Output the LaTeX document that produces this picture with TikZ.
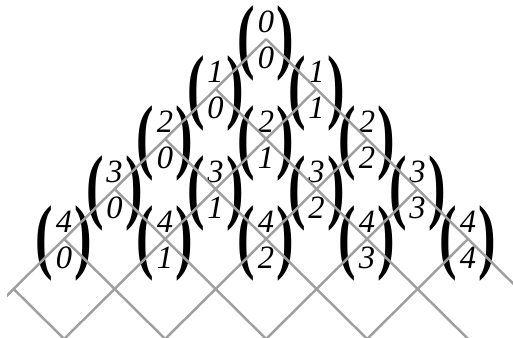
\documentclass[tikz,border=0pt]{standalone}
\usepackage{graphicx}
\usepackage{fontspec}
\setmainfont{Liberation Serif}
\newcommand\bparen[1]{%
  \vcenter{\hbox{\scalebox{1}[1.58]{\fontsize{30}{30}\selectfont\bfseries\upshape#1}}}}
\newcommand\coefstack[2]{%
  $\bparen{(}\kern1.5pt\vcenter{\hbox{\begin{tabular}{@{}c@{}}#1\\#2\end{tabular}}}\kern1.5pt\bparen{)}$}

\begin{document}
\begin{tikzpicture}[
  x=1.01cm, y=1cm,
  gridline/.style={draw=gray!75, line width=1.4pt},
  coef/.style={font=\fontsize{18.5}{20.5}\selectfont\itshape, inner sep=0pt, outer sep=0pt, yshift=-0.09cm},
]
\useasboundingbox (-5.27,-5.98) rectangle (4.89,0.78);

% lattice points and binomial coefficients
\foreach \n in {0,...,4}{
  \foreach \k in {0,...,\n}{
    \coordinate (p\n\k) at ({2*\k-\n},-\n);
    \node[coef] (b\n\k) at (p\n\k) {\coefstack{\n}{\k}};
  }
}
\coordinate (p50) at (-5,-5);

% lattice lines
\begin{scope}
  \clip (-5.13,-5.98) rectangle (4.89,0.78);
  \foreach \n in {0,...,5}
    \draw[gridline] (p\n0) -- ++({6-\n},{\n-6});
  \foreach \n in {0,...,4}
    \draw[gridline] (p\n\n) -- ++({\n-6},{\n-6});
\end{scope}

\end{tikzpicture}
\end{document}
